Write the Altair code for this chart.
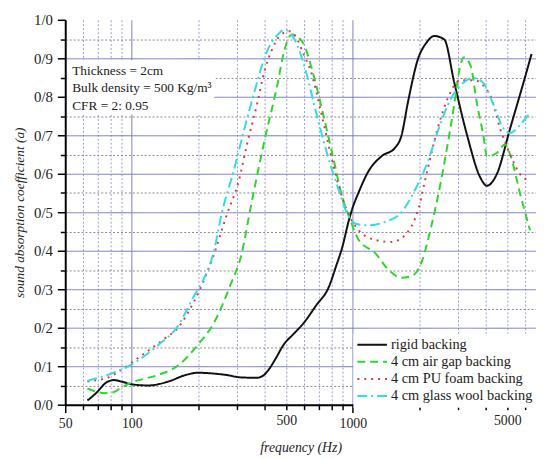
import altair as alt
import pandas as pd

FONT = "Liberation Serif"

series_names = [
    "rigid backing",
    "4 cm air gap backing",
    "4 cm PU foam backing",
    "4 cm glass wool backing",
]
series_colors = ["#111111", "#2fd62f", "#e03a3a", "#33dbe6"]
series_dash = [[1, 0], [8, 5], [2, 5], [10, 4, 2, 4]]

rigid_f = [63, 70, 76, 83, 90, 100, 119, 146, 175, 198, 244, 270, 310, 368, 394, 415, 452, 484, 540, 595, 681,
           782, 837, 897, 960, 1000, 1060, 1179, 1353, 1551, 1662, 1778, 1972, 2150, 2337, 2593, 2876, 3290,
           3777, 4042, 4482, 5152, 6107, 6437]
rigid_a = [0.011, 0.034, 0.056, 0.064, 0.060, 0.053, 0.050, 0.060, 0.077, 0.083, 0.080, 0.077, 0.071, 0.070,
           0.076, 0.090, 0.124, 0.154, 0.184, 0.210, 0.257, 0.308, 0.357, 0.410, 0.479, 0.513, 0.550, 0.607,
           0.646, 0.667, 0.700, 0.787, 0.898, 0.940, 0.958, 0.949, 0.838, 0.700, 0.590, 0.569, 0.599, 0.718,
           0.864, 0.911]

airgap_f = [63, 70, 76, 83, 90, 100, 115, 131, 162, 198, 236, 279, 315, 343, 401, 452, 492, 530, 594, 659, 730,
            809, 897, 960, 1064, 1263, 1448, 1662, 1843, 2040, 2262, 2508, 2685, 2876, 3024, 3180, 3410, 3654,
            3915, 4042, 4482, 4888, 5152, 5716, 6340]
airgap_a = [0.042, 0.033, 0.030, 0.033, 0.045, 0.058, 0.068, 0.077, 0.102, 0.154, 0.214, 0.310, 0.395, 0.505,
            0.693, 0.821, 0.924, 0.962, 0.941, 0.864, 0.761, 0.650, 0.539, 0.490, 0.428, 0.394, 0.351, 0.330,
            0.334, 0.368, 0.462, 0.582, 0.676, 0.779, 0.864, 0.903, 0.881, 0.779, 0.693, 0.645, 0.654, 0.676,
            0.650, 0.548, 0.453]

pu_f = [63, 70, 76, 88, 103, 141, 162, 180, 205, 228, 270, 305, 332, 368, 401, 429, 467, 515, 560, 594, 648,
        718, 795, 866, 928, 1064, 1263, 1500, 1719, 1972, 2189, 2423, 2685, 3077, 3532, 4183, 4634, 5152, 5716,
        6340]
pu_a = [0.060, 0.064, 0.068, 0.087, 0.115, 0.172, 0.200, 0.240, 0.304, 0.368, 0.496, 0.582, 0.676, 0.779, 0.872,
        0.920, 0.958, 0.970, 0.950, 0.915, 0.864, 0.761, 0.650, 0.565, 0.513, 0.453, 0.428, 0.423, 0.440, 0.505,
        0.616, 0.718, 0.795, 0.843, 0.843, 0.804, 0.718, 0.650, 0.599, 0.582]

glass_f = [63, 81, 100, 131, 162, 191, 211, 236, 255, 289, 321, 362, 407, 452, 492, 554, 615, 681, 768, 866, 944,
           1028, 1179, 1399, 1662, 1904, 2189, 2423, 2778, 3180, 3532, 3915, 4333, 4804, 5152, 5716, 6231]
glass_a = [0.062, 0.081, 0.105, 0.154, 0.205, 0.282, 0.325, 0.402, 0.496, 0.607, 0.710, 0.821, 0.915, 0.958,
           0.974, 0.941, 0.864, 0.761, 0.650, 0.556, 0.496, 0.470, 0.466, 0.475, 0.500, 0.556, 0.633, 0.710,
           0.795, 0.838, 0.849, 0.834, 0.779, 0.718, 0.706, 0.727, 0.753]

x_tick_values = [50, 60, 70, 80, 90, 100, 200, 300, 400, 500, 600, 700, 800, 900, 1000,
                 2000, 3000, 4000, 5000, 6000]
x_labeled = [50, 100, 500, 1000, 5000]
y_tick_values = [0.0, 0.05, 0.1, 0.15, 0.2, 0.25, 0.3, 0.35, 0.4, 0.45, 0.5,
                 0.55, 0.6, 0.65, 0.7, 0.75, 0.8, 0.85, 0.9, 0.95, 1.0]

annotation_lines = ["Thickness = 2cm", "Bulk density = 500 Kg/m\u00b3", "CFR = 2: 0.95"]

rows = []
for name, fs, vs in zip(series_names,
                        [rigid_f, airgap_f, pu_f, glass_f],
                        [rigid_a, airgap_a, pu_a, glass_a]):
    for f, v in zip(fs, vs):
        rows.append({"series": name, "freq": f, "alpha": v})
df = pd.DataFrame(rows)

GRID_BLUE = "#7474c8"
GRID_BLUE_DOT = "#9a9ad8"
GRID_GREY_DOT = "#8a8a8a"

x_major_test = "datum.value == 100 || datum.value == 1000"
x_long_tick = "datum.value == 50 || datum.value == 100 || datum.value == 1000"
labeled_js = "[" + ",".join(str(v) for v in x_labeled) + "]"

x_axis = alt.Axis(
    values=x_tick_values,
    labelExpr=f"indexof({labeled_js}, datum.value) >= 0 ? format(datum.value, 'd') : ''",
    title="frequency (Hz)",
    titleFont=FONT, titleFontSize=14, titleFontStyle="italic", titleFontWeight="normal",
    titleColor="#222", titlePadding=10,
    labelFont=FONT, labelFontSize=14, labelColor="#222", labelPadding=4, labelFlush=False,
    labelOverlap=False,
    domainColor="black", domainWidth=2,
    tickColor="black", tickWidth=1.5,
    tickSize={"condition": {"test": x_long_tick, "value": 8}, "value": 5},
    grid=True,
    gridColor={"condition": {"test": x_major_test, "value": GRID_BLUE}, "value": GRID_BLUE_DOT},
    gridDash={"condition": {"test": x_major_test, "value": [1, 0]}, "value": [2, 2]},
    gridOpacity={"condition": {"test": "datum.value == 50", "value": 0}, "value": 1},
    gridWidth=1,
)

y_major_test = "round(datum.value * 20) % 2 == 0"
y_axis = alt.Axis(
    values=y_tick_values,
    labelExpr=f"{y_major_test} ? replace(format(datum.value, '.1f'), '.', '/') : ''",
    title="sound absorption coefficient (a)",
    titleFont=FONT, titleFontSize=13.5, titleFontStyle="italic", titleFontWeight="normal",
    titleColor="#222", titlePadding=7,
    labelFont=FONT, labelFontSize=15, labelColor="#222", labelPadding=5,
    labelOverlap=False, labelFlush=False,
    domainColor="black", domainWidth=2,
    tickColor="black", tickWidth=1.5,
    tickSize={"condition": {"test": y_major_test, "value": 8}, "value": 5},
    grid=True,
    gridColor={"condition": {"test": y_major_test, "value": GRID_BLUE}, "value": GRID_GREY_DOT},
    gridDash={"condition": {"test": y_major_test, "value": [1, 0]}, "value": [2, 2]},
    gridOpacity={"condition": {"test": "datum.value > 0.99 || datum.value < 0.01", "value": 0}, "value": 1},
    gridWidth=1,
)

legend_cfg = dict(
    orient="none", legendX=292, legendY=318, title=None,
    fillColor="white", padding=3,
    symbolType="stroke", symbolSize=900, symbolStrokeWidth=2,
    labelFont=FONT, labelFontSize=14.5, labelColor="#222", labelOffset=3,
    clipHeight=16.5, rowPadding=0.3,
)

lines = alt.Chart(df).mark_line(strokeWidth=2, interpolate="monotone", clip=True).encode(
    x=alt.X("freq:Q", scale=alt.Scale(type="log", domain=[50, 6745], nice=False), axis=x_axis),
    y=alt.Y("alpha:Q", scale=alt.Scale(domain=[0, 1.0], nice=False), axis=y_axis),
    color=alt.Color(
        "series:N",
        scale=alt.Scale(domain=series_names, range=series_colors),
        sort=series_names,
        legend=alt.Legend(**legend_cfg),
    ),
    strokeDash=alt.StrokeDash(
        "series:N",
        scale=alt.Scale(domain=series_names, range=series_dash),
        sort=series_names,
        legend=alt.Legend(**legend_cfg),
    ),
    detail="series:N",
)

anno_src = pd.DataFrame({"k": [0]})
box = alt.Chart(anno_src).mark_rect(fill="white", stroke=None).encode(
    x=alt.value(2), x2=alt.value(151), y=alt.value(41), y2=alt.value(96)
)
anno_text = alt.Chart(anno_src).mark_text(
    text=annotation_lines, align="left", baseline="alphabetic", font=FONT, fontSize=13.5,
    lineHeight=17.5, color="#222",
).encode(x=alt.value(7), y=alt.value(56))

chart = alt.layer(lines, box, anno_text).properties(
    width=477, height=390,
    autosize=alt.AutoSizeParams(type="none"),
    padding={"left": 58, "top": 9, "right": 0, "bottom": 48},
    background="white",
).configure_view(stroke=None)

chart.save("out.html", embed_options={"renderer": "svg", "actions": False})
